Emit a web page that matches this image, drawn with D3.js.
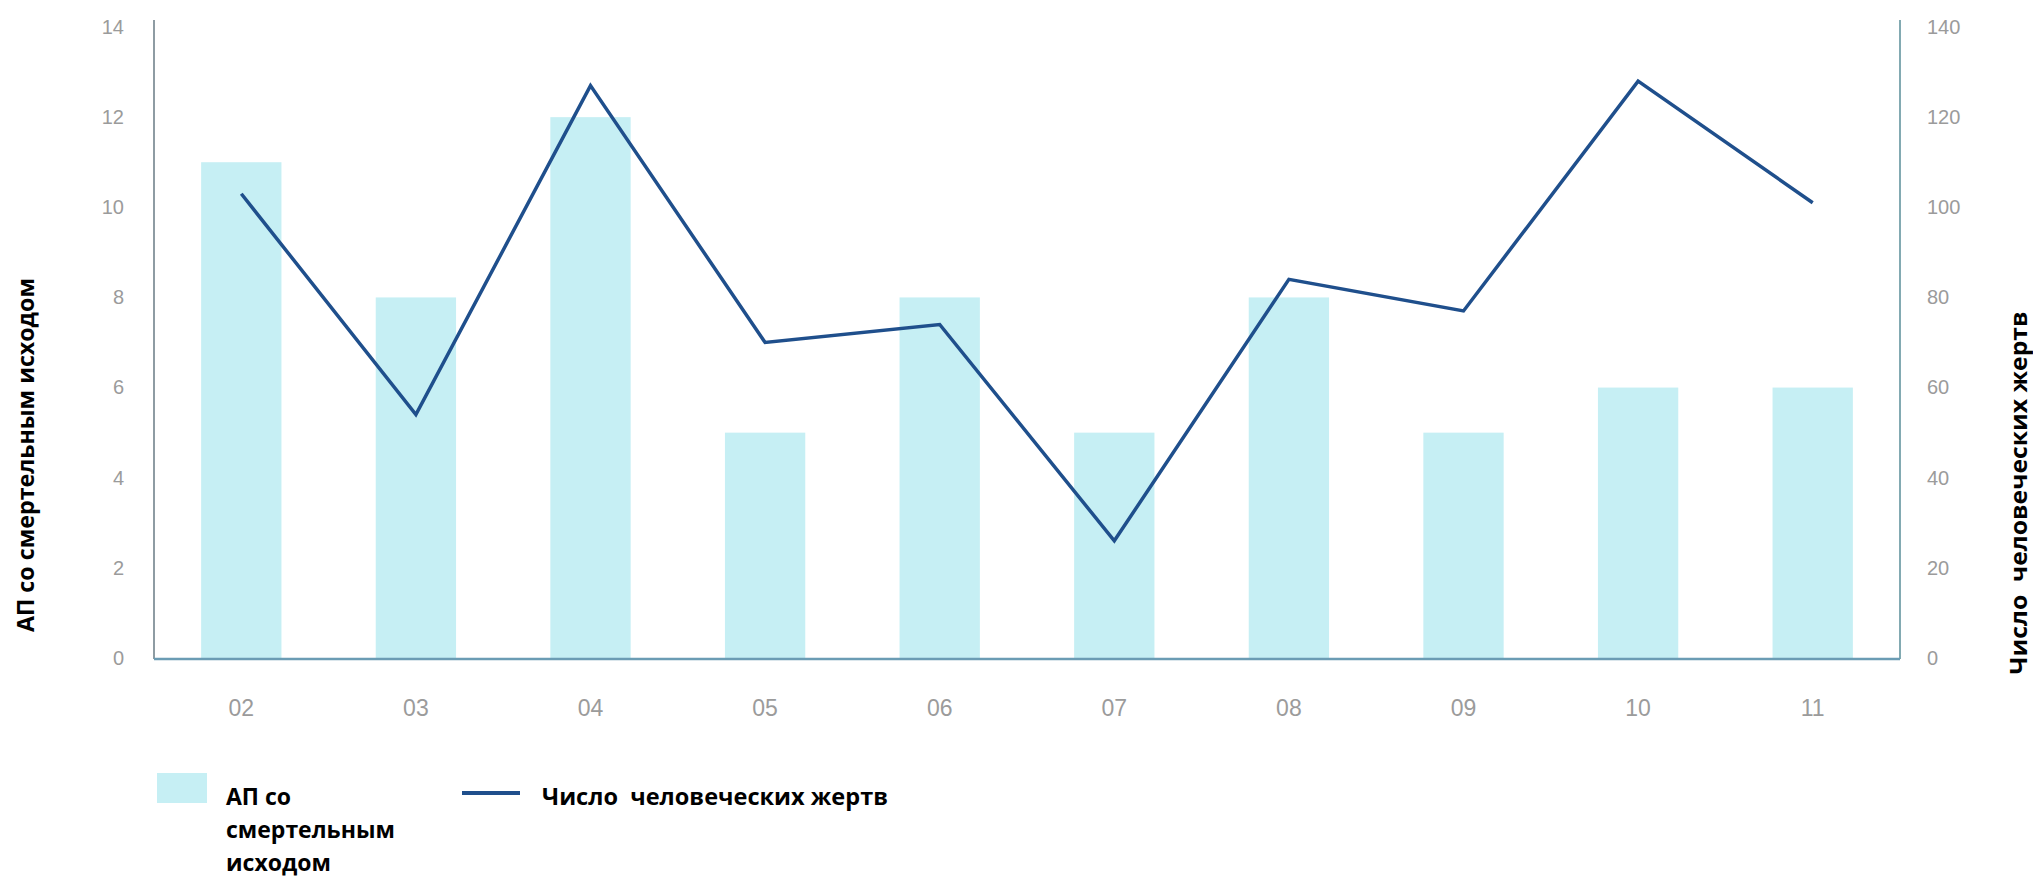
<!DOCTYPE html>
<html>
<head>
<meta charset="utf-8">
<script src="https://cdn.jsdelivr.net/npm/d3@7"></script>
<style>
  body { margin: 0; background: #fff; }
  .tick text { font-family: "Liberation Sans", Arial, sans-serif; fill: #9b9b9b; }
  .title { font-family: "Open Sans", "DejaVu Sans", sans-serif; font-weight: bold; fill: #000; white-space: pre; }
</style>
</head>
<body>
<div class="chart"></div>
<script>
const years = ["02", "03", "04", "05", "06", "07", "08", "09", "10", "11"];
const fatalAccidents = [11, 8, 12, 5, 8, 5, 8, 5, 6, 6];
const victims = [103, 54, 127, 70, 74, 26, 84, 77, 128, 101];
const leftTicks = [0, 2, 4, 6, 8, 10, 12, 14];
const rightTicks = [0, 20, 40, 60, 80, 100, 120, 140];

const leftTitle = "АП со смертельным исходом";
const rightTitle = "Число  человеческих жертв";
const legendBarLines = ["АП со", "смертельным", "исходом"];
const legendLineLabel = "Число  человеческих жертв";

const svgWidth = 2033;
const svgHeight = 881;
const svg = d3.select(".chart").append("svg")
  .attr("width", svgWidth)
  .attr("height", svgHeight);

const plotLeft = 154;
const plotRight = 1900;
const plotBottom = 658;
const plotTop = 27;

const xScale = d3.scaleBand()
  .domain(years)
  .range([plotLeft, plotRight])
  .paddingInner(0.54)
  .paddingOuter(0.27);

const yLeft = d3.scaleLinear().domain([0, 14]).range([plotBottom, plotTop]);
const yRight = d3.scaleLinear().domain([0, 140]).range([plotBottom, plotTop]);

// bars
svg.append("g")
  .selectAll("rect")
  .data(years)
  .enter()
  .append("rect")
  .attr("x", (d) => xScale(d))
  .attr("y", (d, i) => yLeft(fatalAccidents[i]))
  .attr("width", xScale.bandwidth())
  .attr("height", (d, i) => yLeft(0) - yLeft(fatalAccidents[i]))
  .attr("fill", "#c6eff4");

// axis lines
svg.append("line")
  .attr("x1", plotLeft).attr("x2", plotLeft)
  .attr("y1", 20).attr("y2", plotBottom + 1)
  .attr("stroke", "#8e9ca3").attr("stroke-width", 2);
svg.append("line")
  .attr("x1", plotRight).attr("x2", plotRight)
  .attr("y1", 20).attr("y2", plotBottom + 1)
  .attr("stroke", "#82aab2").attr("stroke-width", 2);

// left axis
const leftAxisG = svg.append("g")
  .attr("transform", `translate(${plotLeft}, 0)`)
  .call(d3.axisLeft(yLeft).tickValues(leftTicks).tickSize(0).tickPadding(30));
leftAxisG.select(".domain").remove();
leftAxisG.selectAll(".tick text").attr("font-size", 20);

// right axis
const rightAxisG = svg.append("g")
  .attr("transform", `translate(${plotRight}, 0)`)
  .call(d3.axisRight(yRight).tickValues(rightTicks).tickSize(0).tickPadding(27));
rightAxisG.select(".domain").remove();
rightAxisG.selectAll(".tick text").attr("font-size", 20);

// bottom axis
const xAxisG = svg.append("g")
  .attr("transform", `translate(0, ${plotBottom})`)
  .call(d3.axisBottom(xScale).tickSize(0).tickPadding(42));
xAxisG.select(".domain").remove();
xAxisG.selectAll(".tick text").attr("font-size", 23);

svg.append("line")
  .attr("x1", plotLeft).attr("x2", plotRight)
  .attr("y1", plotBottom + 1).attr("y2", plotBottom + 1)
  .attr("stroke", "#6b9cb4").attr("stroke-width", 2.5);

// victims line
const line = d3.line()
  .x((d, i) => xScale(years[i]) + xScale.bandwidth() / 2)
  .y((d) => yRight(d));

svg.append("path")
  .datum(victims)
  .attr("d", line)
  .attr("fill", "none")
  .attr("stroke", "#1f4f8c")
  .attr("stroke-width", 3.5)
  .attr("stroke-linejoin", "miter");

// axis titles
svg.append("text")
  .attr("class", "title")
  .attr("transform", "translate(24, 455) rotate(-90)")
  .attr("text-anchor", "middle")
  .attr("dominant-baseline", "central")
  .attr("font-size", 24)
  .attr("textLength", 354)
  .attr("lengthAdjust", "spacingAndGlyphs")
  .text(leftTitle);

svg.append("text")
  .attr("class", "title")
  .attr("transform", "translate(2018, 493) rotate(-90)")
  .attr("text-anchor", "middle")
  .attr("dominant-baseline", "central")
  .attr("font-size", 23)
  .attr("textLength", 363)
  .attr("lengthAdjust", "spacingAndGlyphs")
  .text(rightTitle);

// legend
const legend = svg.append("g");
legend.append("rect")
  .attr("x", 157).attr("y", 773)
  .attr("width", 50).attr("height", 30)
  .attr("fill", "#c6eff4");

legend.selectAll("text.bar-label")
  .data(legendBarLines)
  .enter()
  .append("text")
  .attr("class", "title bar-label")
  .attr("x", 226)
  .attr("y", (d, i) => 796 + i * 33)
  .attr("dominant-baseline", "central")
  .attr("font-size", 23)
  .text((d) => d);

legend.append("line")
  .attr("x1", 462).attr("x2", 520)
  .attr("y1", 793).attr("y2", 793)
  .attr("stroke", "#1f4f8c").attr("stroke-width", 4);

legend.append("text")
  .attr("class", "title")
  .attr("x", 542)
  .attr("y", 796)
  .attr("dominant-baseline", "central")
  .attr("font-size", 23)
  .attr("textLength", 346)
  .attr("lengthAdjust", "spacingAndGlyphs")
  .text(legendLineLabel);
</script>
</body>
</html>
